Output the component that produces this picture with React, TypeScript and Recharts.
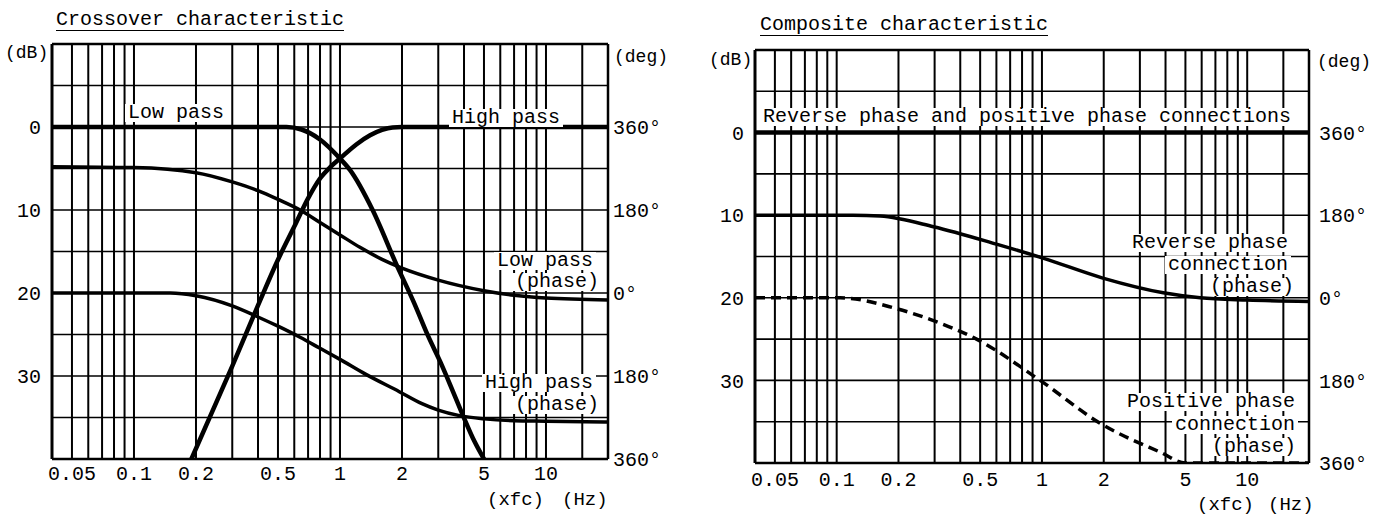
import React from 'react';
import { LineChart, Line, XAxis, YAxis, CartesianGrid, ReferenceLine } from 'recharts';

const FONT = '"Liberation Mono", "DejaVu Sans Mono", monospace';

// log paper grid (xfc) and the labelled frequencies
const gridFreqs = [0.04, 0.05, 0.06, 0.07, 0.08, 0.09, 0.1, 0.2, 0.3, 0.4, 0.5, 0.6, 0.7, 0.8, 0.9, 1, 2, 3, 4, 5, 6, 7, 8, 9, 10, 15, 20];
const labelFreqs = [0.05, 0.1, 0.2, 0.5, 1, 2, 5, 10];

// level axis (dB, attenuation grows downward) and phase axis
const dbTicks = [-10, -5, 0, 5, 10, 15, 20, 25, 30, 35, 40];
const dbLabels = [0, 10, 20, 30];
const degTicks = [540, 360, 180, 0, -180, -360];

// Crossover characteristic: [xfc, dB]
const lowPassLevel = [
  [0.04, 0], [0.55, 0], [0.65, 0.3], [0.8, 1.5], [1, 3.8], [1.12, 5.2], [1.44, 10], [1.89, 16.7],
  [2.3, 21.3], [2.68, 25.2], [3.07, 28.3], [3.5, 31.6], [3.96, 34.8], [4.5, 37.9], [5, 40],
];
const highPassLevel = [
  [0.19, 40], [0.3, 28.8], [0.4, 21.5], [0.5, 16], [0.6, 12], [0.7, 8.6], [0.8, 6.2], [0.9, 4.8],
  [1, 3.8], [1.2, 2.1], [1.4, 1], [1.6, 0.35], [1.8, 0.05], [2, 0], [20, 0],
];
// [xfc, deg]
const lowPassPhase = [
  [0.04, 274], [0.1, 272], [0.2, 261], [0.3, 241], [0.4, 222], [0.5, 203], [0.64, 180], [0.8, 153],
  [1, 126], [1.25, 99], [1.6, 73], [2, 54], [3, 28], [5, 5], [7, -5], [10, -11], [20, -15],
];
const highPassPhase = [
  [0.04, 0], [0.15, 0], [0.2, -6], [0.3, -28], [0.4, -52], [0.5, -72], [0.64, -96], [0.8, -120],
  [1, -144], [1.33, -176], [1.94, -214], [2.5, -240], [3, -254], [3.8, -266], [5, -273], [7, -277],
  [10, -278], [20, -280],
];

// Composite characteristic
const compositeLevel = [[0.04, 0], [20, 0]];
const reversePhase = [
  [0.04, 180], [0.12, 180], [0.163, 178], [0.296, 155], [0.6, 117], [1.02, 86], [1.98, 43],
  [3.9, 11], [5.9, 0], [10, -5], [20, -8],
];
const positivePhase = [
  [0.04, 0], [0.104, 0], [0.19, -22], [0.285, -47], [0.48, -90], [0.98, -180], [1.93, -274],
  [3.8, -337], [5, -360], [20, -360],
];

const pts = (rows: number[][]) => rows.map(([f, v]) => ({ f, v }));

const H = 514;

const Note = ({ x, y, size = 20, bg = true, children }: any) => (
  <div
    style={{
      position: 'absolute',
      left: x,
      top: y - (size - 2) / 2,
      fontFamily: FONT,
      fontSize: size,
      lineHeight: `${size - 2}px`,
      whiteSpace: 'pre',
      color: '#000',
      background: bg ? '#fff' : 'transparent',
      padding: bg ? '0 3px' : 0,
      marginLeft: bg ? -3 : 0,
    }}
  >
    {children}
  </div>
);

const Title = ({ x, y, children }: any) => (
  <div
    style={{
      position: 'absolute',
      left: x,
      top: y - 10,
      fontFamily: FONT,
      fontSize: 20,
      lineHeight: '20px',
      whiteSpace: 'pre',
      color: '#000',
      borderBottom: '1.5px solid #000',
    }}
  >
    {children}
  </div>
);

type PanelProps = {
  left: number;
  width: number;
  margin: { top: number; right: number; bottom: number; left: number };
  rightGap: number;
  xGap: number;
  children: React.ReactNode;
};

const tickStyle = { fill: '#000', fontSize: 20, fontFamily: FONT };

const Panel = ({ left, width, margin, rightGap, xGap, children }: PanelProps) => (
  <div style={{ position: 'absolute', left, top: 0 }}>
    <LineChart width={width} height={H} margin={margin}>
      <CartesianGrid horizontal={false} stroke="#000" strokeWidth={2} />
      <CartesianGrid vertical={false} stroke="#000" strokeWidth={1.6} />
      <XAxis
        dataKey="f"
        type="number"
        scale="log"
        domain={[0.04, 20]}
        allowDataOverflow
        ticks={gridFreqs}
        interval={0}
        tickFormatter={(v: number) => (labelFreqs.includes(v) ? String(v) : '')}
        tickLine={false}
        tickSize={0}
        tickMargin={xGap}
        axisLine={false}
        height={30}
        tick={tickStyle}
      />
      <YAxis
        type="number"
        reversed
        domain={[-10, 40]}
        allowDataOverflow
        ticks={dbTicks}
        interval={0}
        tickFormatter={(v: number) => (dbLabels.includes(v) ? String(v) : '')}
        tickLine={false}
        tickSize={0}
        tickMargin={11}
        axisLine={false}
        width={44}
        tick={tickStyle}
      />
      <YAxis
        yAxisId="deg"
        orientation="right"
        type="number"
        domain={[-360, 540]}
        allowDataOverflow
        ticks={degTicks}
        interval={0}
        tickFormatter={(v: number) => (v === 540 ? '' : `${Math.abs(v)}°`)}
        tickLine={false}
        tickSize={0}
        tickMargin={rightGap}
        axisLine={false}
        width={60}
        tick={{ ...tickStyle, textAnchor: 'start' }}
      />
      <ReferenceLine y={-10} stroke="#000" strokeWidth={2.5} />
      <ReferenceLine y={40} stroke="#000" strokeWidth={2.5} />
      <ReferenceLine x={0.04} stroke="#000" strokeWidth={3} />
      <ReferenceLine x={20} stroke="#000" strokeWidth={2.5} />
      {children}
    </LineChart>
  </div>
);

const level = (rows: number[][], key: string) => (
  <Line
    key={key}
    data={pts(rows)}
    dataKey="v"
    type="monotone"
    stroke="#000"
    strokeWidth={4.5}
    dot={false}
    isAnimationActive={false}
  />
);

const phase = (rows: number[][], key: string, dashed = false) => (
  <Line
    key={key}
    yAxisId="deg"
    data={pts(rows)}
    dataKey="v"
    type="monotone"
    stroke="#000"
    strokeWidth={3.5}
    strokeDasharray={dashed ? '10 6' : undefined}
    dot={false}
    isAnimationActive={false}
  />
);

export default function App() {
  return (
    <div style={{ position: 'absolute', left: 0, top: 0, width: 1388, height: H, background: '#fff', overflow: 'hidden' }}>
      <Panel left={0} width={700} margin={{ top: 44, right: 32, bottom: 25, left: 8 }} rightGap={5} xGap={7}>
        {level(lowPassLevel, 'lp')}
        {level(highPassLevel, 'hp')}
        {phase(lowPassPhase, 'lpp')}
        {phase(highPassPhase, 'hpp')}
      </Panel>
      <Panel left={700} width={688} margin={{ top: 50, right: 19, bottom: 21, left: 11 }} rightGap={10} xGap={9}>
        {level(compositeLevel, 'sum')}
        {phase(reversePhase, 'rev')}
        {phase(positivePhase, 'pos', true)}
      </Panel>

      <Title x={56} y={20}>Crossover characteristic</Title>
      <Title x={760} y={25}>Composite characteristic</Title>

      <Note x={5} y={53} size={18} bg={false}>(dB)</Note>
      <Note x={614} y={57} size={18} bg={false}>(deg)</Note>
      <Note x={709} y={60} size={18} bg={false}>(dB)</Note>
      <Note x={1317} y={62} size={18} bg={false}>(deg)</Note>

      <Note x={487} y={500} size={19} bg={false}>(xfc)</Note>
      <Note x={562} y={500} size={19} bg={false}>(Hz)</Note>
      <Note x={1197} y={505} size={19} bg={false}>(xfc)</Note>
      <Note x={1268} y={505} size={19} bg={false}>(Hz)</Note>

      <Note x={128} y={113}>Low pass</Note>
      <Note x={452} y={118}>High pass</Note>
      <Note x={497} y={261}>Low pass</Note>
      <Note x={515} y={282}>(phase)</Note>
      <Note x={485} y={383}>High pass</Note>
      <Note x={515} y={405}>(phase)</Note>

      <Note x={763} y={117}>Reverse phase and positive phase connections</Note>
      <Note x={1132} y={243}>Reverse phase</Note>
      <Note x={1168} y={265}>connection</Note>
      <Note x={1210} y={287}>(phase)</Note>
      <Note x={1127} y={402}>Positive phase</Note>
      <Note x={1175} y={425}>connection</Note>
      <Note x={1212} y={447}>(phase)</Note>
    </div>
  );
}
